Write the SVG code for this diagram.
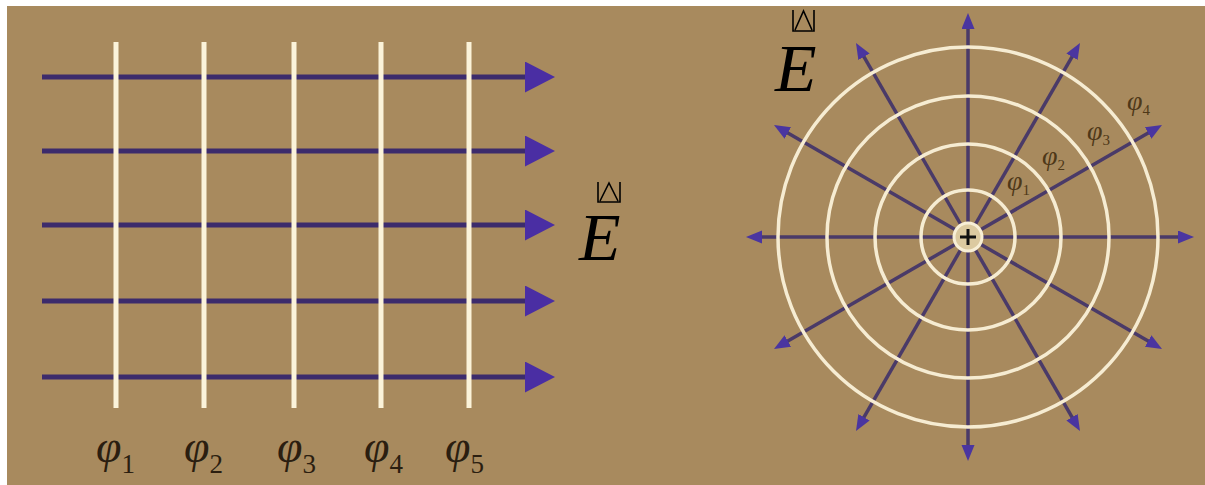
<svg xmlns="http://www.w3.org/2000/svg" width="1205" height="485" viewBox="0 0 1205 485">
<style>
.bg{fill:#A88A5E}
.fl{stroke:#3C2B6C;stroke-width:5;fill:none}
.rl{stroke:#4A3A68;stroke-width:3.5;fill:none}
.eq{stroke:#FBF3DA;stroke-width:5;fill:none}
.ec{stroke:#F6ECD2;stroke-width:3.5;fill:none}
.phi{font-family:"Liberation Serif",serif;font-style:italic;fill:#2B1E10}
.sub{font-style:normal}
.rphi{font-family:"Liberation Serif",serif;font-style:italic;fill:#4E3818}
.E{font-family:"Liberation Serif",serif;font-style:italic;font-size:68px;fill:#000}
.acc{stroke:#000;stroke-width:1.6;fill:none}
</style>
<defs>
<marker id="bigHead" markerUnits="userSpaceOnUse" markerWidth="32" markerHeight="32" refX="2" refY="15.5" orient="auto" viewBox="0 0 32 32">
<path d="M0,0 L30,15.5 L0,31 z" fill="#4A2EA3"/>
</marker>
<marker id="smallHead" markerUnits="userSpaceOnUse" markerWidth="18" markerHeight="14" refX="2" refY="6.5" orient="auto" viewBox="0 0 18 14">
<path d="M0,0 L16,6.5 L0,13 z" fill="#4A35A0"/>
</marker>
</defs>
<rect class="bg" x="7" y="6" width="1198" height="479"/>

<g id="connectors">
<g id="uniform-field">
<line class="fl" x1="42" y1="77" x2="527" y2="77" marker-end="url(#bigHead)"/>
<line class="fl" x1="42" y1="151" x2="527" y2="151" marker-end="url(#bigHead)"/>
<line class="fl" x1="42" y1="225" x2="527" y2="225" marker-end="url(#bigHead)"/>
<line class="fl" x1="42" y1="301" x2="527" y2="301" marker-end="url(#bigHead)"/>
<line class="fl" x1="42" y1="377" x2="527" y2="377" marker-end="url(#bigHead)"/>
</g>
<g id="radial-field">
<line class="rl" x1="968" y1="237" x2="1180" y2="237" marker-end="url(#smallHead)"/>
<line class="rl" x1="968" y1="237" x2="1149.9" y2="132" marker-end="url(#smallHead)"/>
<line class="rl" x1="968" y1="237" x2="1073" y2="55.1" marker-end="url(#smallHead)"/>
<line class="rl" x1="968" y1="237" x2="968" y2="27" marker-end="url(#smallHead)"/>
<line class="rl" x1="968" y1="237" x2="863" y2="55.1" marker-end="url(#smallHead)"/>
<line class="rl" x1="968" y1="237" x2="786.1" y2="132" marker-end="url(#smallHead)"/>
<line class="rl" x1="968" y1="237" x2="760" y2="237" marker-end="url(#smallHead)"/>
<line class="rl" x1="968" y1="237" x2="786.1" y2="342" marker-end="url(#smallHead)"/>
<line class="rl" x1="968" y1="237" x2="863" y2="418.9" marker-end="url(#smallHead)"/>
<line class="rl" x1="968" y1="237" x2="968" y2="447" marker-end="url(#smallHead)"/>
<line class="rl" x1="968" y1="237" x2="1073" y2="418.9" marker-end="url(#smallHead)"/>
<line class="rl" x1="968" y1="237" x2="1149.9" y2="342" marker-end="url(#smallHead)"/>
</g>
</g>

<g id="equipotential-planes">
<line class="eq" x1="116" y1="42" x2="116" y2="408"/>
<line class="eq" x1="204" y1="42" x2="204" y2="408"/>
<line class="eq" x1="294" y1="42" x2="294" y2="408"/>
<line class="eq" x1="381" y1="42" x2="381" y2="408"/>
<line class="eq" x1="469" y1="42" x2="469" y2="408"/>
</g>

<g id="equipotential-circles">
<circle class="ec" cx="968" cy="237" r="47"/>
<circle class="ec" cx="968" cy="237" r="93"/>
<circle class="ec" cx="968" cy="237" r="141"/>
<circle class="ec" cx="968" cy="237" r="190"/>
</g>

<g id="charge">
<circle cx="968" cy="237" r="14" fill="#DCCAA0" stroke="#F8EFD6" stroke-width="3"/>
<line x1="960" y1="237" x2="976" y2="237" stroke="#111" stroke-width="3"/>
<line x1="968" y1="229" x2="968" y2="245" stroke="#111" stroke-width="3"/>
</g>

<g id="labels-left">
<text class="phi" font-size="46" x="96" y="462">φ<tspan class="sub" font-size="27" dy="11">1</tspan></text>
<text class="phi" font-size="46" x="184" y="462">φ<tspan class="sub" font-size="27" dy="11">2</tspan></text>
<text class="phi" font-size="46" x="277" y="462">φ<tspan class="sub" font-size="27" dy="11">3</tspan></text>
<text class="phi" font-size="46" x="364" y="462">φ<tspan class="sub" font-size="27" dy="11">4</tspan></text>
<text class="phi" font-size="46" x="445" y="462">φ<tspan class="sub" font-size="27" dy="11">5</tspan></text>
</g>

<g id="labels-right">
<text class="rphi" font-size="28" x="1007" y="190">φ<tspan class="sub" font-size="15" dy="5">1</tspan></text>
<text class="rphi" font-size="28" x="1042" y="165">φ<tspan class="sub" font-size="15" dy="5">2</tspan></text>
<text class="rphi" font-size="28" x="1087" y="140">φ<tspan class="sub" font-size="15" dy="5">3</tspan></text>
<text class="rphi" font-size="28" x="1127" y="110">φ<tspan class="sub" font-size="15" dy="5">4</tspan></text>
</g>

<g id="E-label-1">
<path class="acc" d="M598,182 V202 H620 V182 M600,201 L609,183 L618,201"/>
<text class="E" x="579" y="260">E</text>
</g>
<g id="E-label-2">
<path class="acc" d="M793,10 V31 H814 V10 M795,30 L803.5,11 L812,30"/>
<text class="E" x="775" y="91">E</text>
</g>
</svg>
